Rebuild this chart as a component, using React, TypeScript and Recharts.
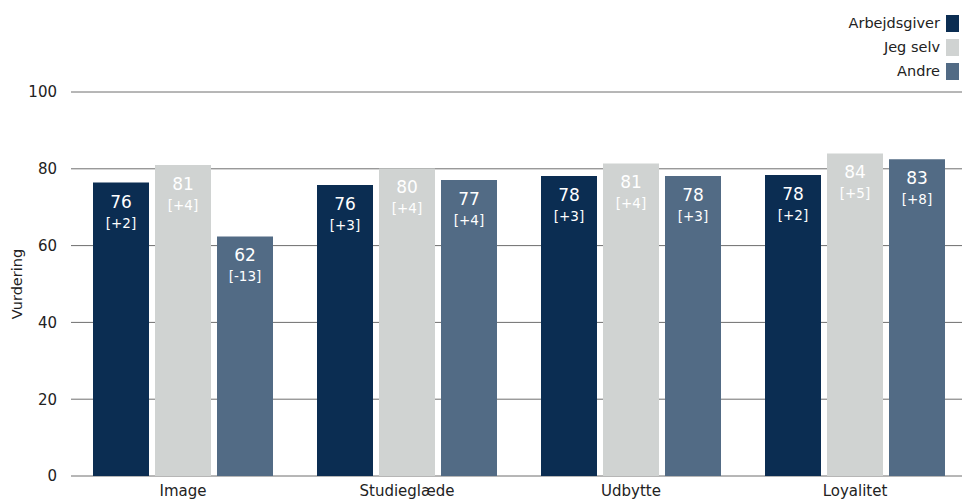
import { BarChart, Bar, XAxis, YAxis, CartesianGrid, LabelList } from "recharts";

const CATEGORIES = ["Image", "Studieglæde", "Udbytte", "Loyalitet"];
const ARBEJDSGIVER = [76.4, 75.8, 78.1, 78.4];
const JEG_SELV = [81, 80.1, 81.4, 84];
const ANDRE = [62.4, 77.1, 78.1, 82.5];
const ARBEJDSGIVER_DIFF = ["+2", "+3", "+3", "+2"];
const JEG_SELV_DIFF = ["+4", "+4", "+4", "+5"];
const ANDRE_DIFF = ["-13", "+4", "+3", "+8"];
const Y_TICKS = [0, 20, 40, 60, 80, 100];

const FONT = "'DejaVu Sans', Tahoma, Verdana, sans-serif";

const SERIES = [
  { key: "arbejdsgiver", name: "Arbejdsgiver", color: "#0B2D52", diffs: ARBEJDSGIVER_DIFF },
  { key: "jegSelv", name: "Jeg selv", color: "#D0D3D2", diffs: JEG_SELV_DIFF },
  { key: "andre", name: "Andre", color: "#526B85", diffs: ANDRE_DIFF },
];

const data = CATEGORIES.map((name, i) => ({
  name,
  arbejdsgiver: ARBEJDSGIVER[i],
  jegSelv: JEG_SELV[i],
  andre: ANDRE[i],
}));

const makeLabel = (diffs: string[]) => (props: any) => {
  const { x, y, width, value, index } = props;
  const cx = Number(x) + Number(width) / 2;
  const top = Number(y);
  return (
    <g fontFamily={FONT} fill="#FFFFFF" textAnchor="middle">
      <text x={cx} y={top + 19} fontSize={17} dominantBaseline="central">
        {Math.round(Number(value))}
      </text>
      <text x={cx} y={top + 40} fontSize={13.5} dominantBaseline="central">
        [{diffs[index]}]
      </text>
    </g>
  );
};

function ChartLegend() {
  return (
    <div
      style={{
        position: "absolute",
        top: 11,
        right: 3,
        fontFamily: FONT,
        fontSize: 14.5,
        color: "#222",
      }}
    >
      {SERIES.map((s) => (
        <div
          key={s.key}
          style={{
            display: "flex",
            alignItems: "center",
            justifyContent: "flex-end",
            height: 24,
          }}
        >
          <span>{s.name}</span>
          <span
            style={{
              display: "inline-block",
              width: 13,
              height: 17,
              marginLeft: 6,
              background: s.color,
            }}
          />
        </div>
      ))}
    </div>
  );
}

export default function App() {
  return (
    <div
      style={{
        position: "absolute",
        left: 0,
        top: 0,
        width: 962,
        height: 499,
        overflow: "hidden",
        background: "#fff",
      }}
    >
      <BarChart
        width={967}
        height={499}
        data={data}
        margin={{ top: 92, right: 0, left: 0, bottom: 0 }}
        barSize={56}
        barGap={6}
      >
        <CartesianGrid vertical={false} stroke="#6e6e6e" />
        <XAxis
          dataKey="name"
          axisLine={false}
          tickLine={false}
          tickSize={0}
          tickMargin={9}
          height={23}
          tick={{ fontSize: 15, fill: "#222", fontFamily: FONT }}
        />
        <YAxis
          domain={[0, 100]}
          ticks={Y_TICKS}
          width={71}
          axisLine={false}
          tickLine={false}
          tickSize={0}
          tickMargin={14}
          tick={{ fontSize: 15, fill: "#222", fontFamily: FONT }}
          label={(p: any) => {
            const vb = p.viewBox || {};
            const cy = (vb.y ?? 92) + (vb.height ?? 384) / 2;
            return (
              <text
                x={17}
                y={cy}
                transform={`rotate(-90, 17, ${cy})`}
                textAnchor="middle"
                dominantBaseline="central"
                fontFamily={FONT}
                fontSize={14.5}
                fill="#222"
              >
                Vurdering
              </text>
            );
          }}
        />
        {SERIES.map((s) => (
          <Bar
            key={s.key}
            dataKey={s.key}
            name={s.name}
            fill={s.color}
            isAnimationActive={false}
          >
            <LabelList dataKey={s.key} content={makeLabel(s.diffs)} />
          </Bar>
        ))}
      </BarChart>
      <ChartLegend />
    </div>
  );
}
